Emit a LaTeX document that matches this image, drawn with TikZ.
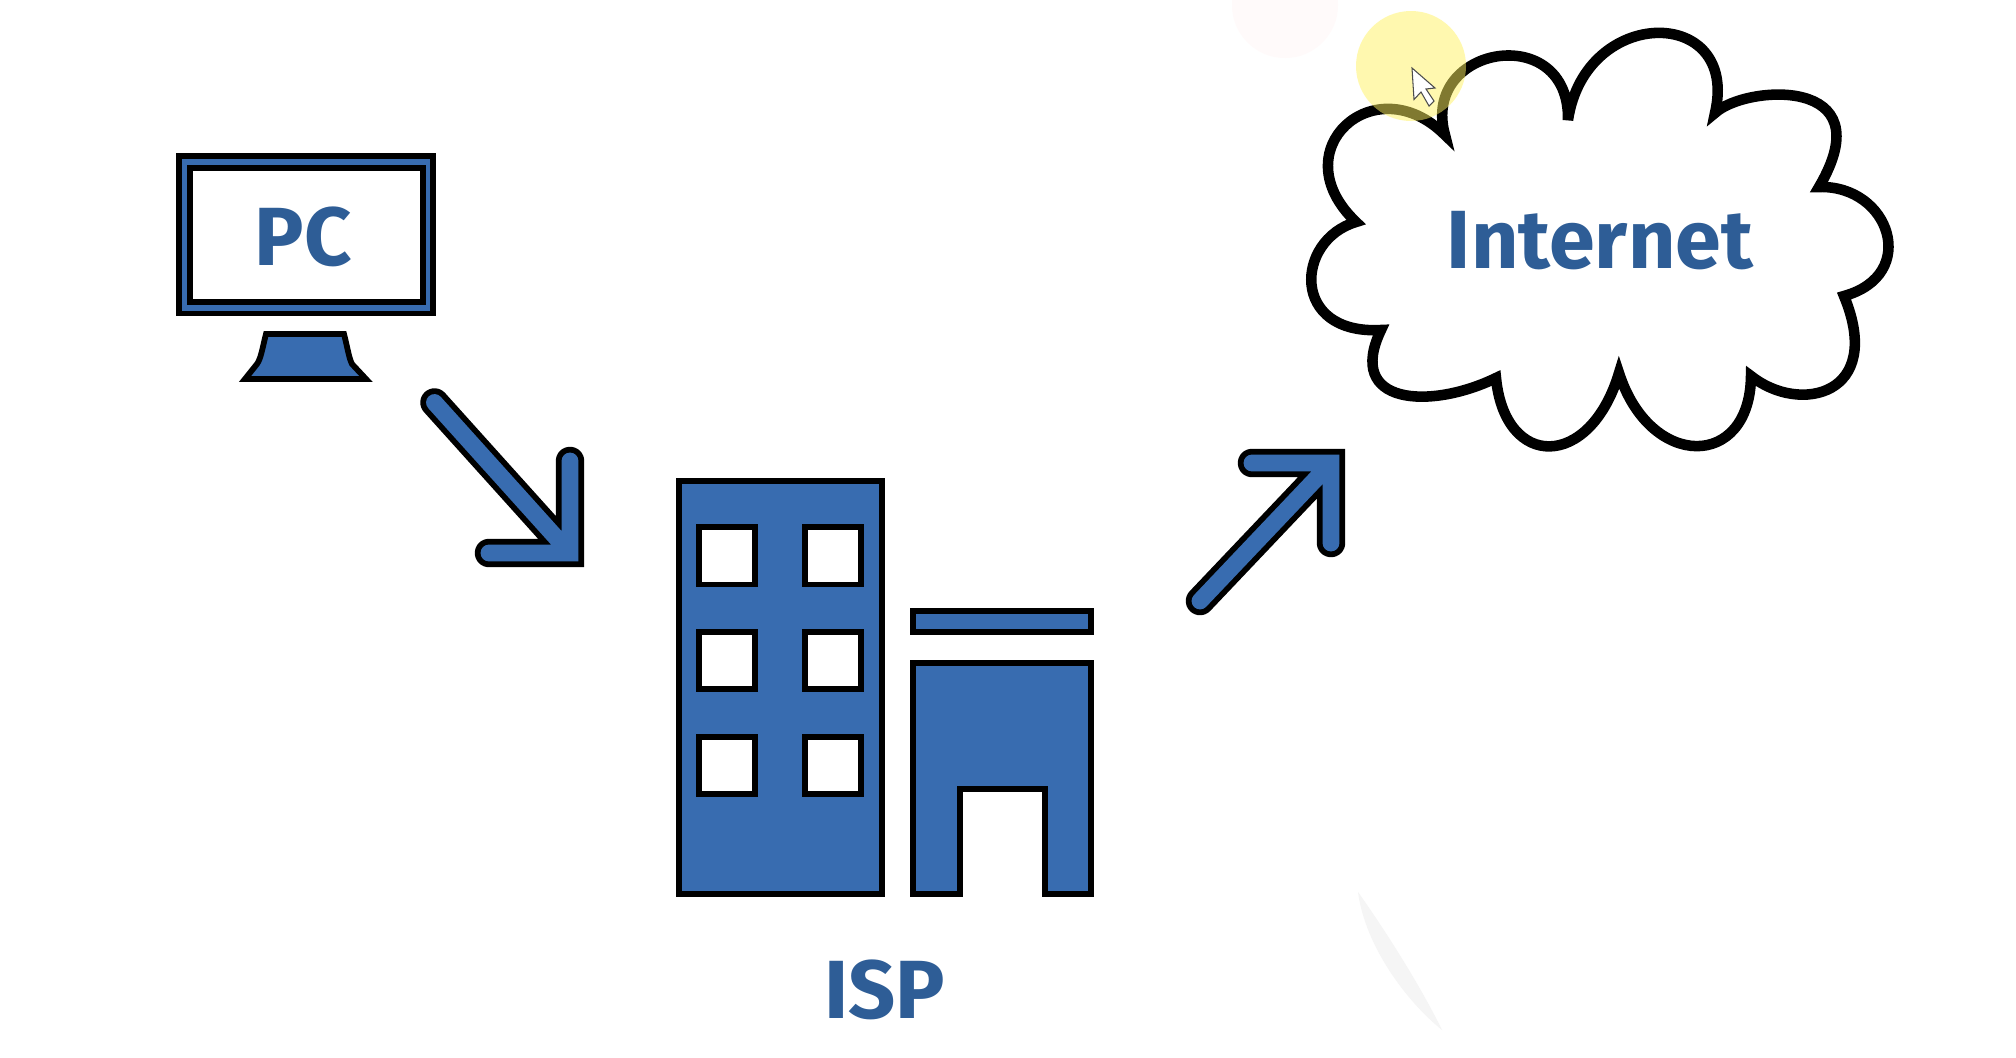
\documentclass[tikz,border=0pt]{standalone}
\usepackage{fontspec}
\setmainfont{Fira Sans}
\definecolor{bluefill}{HTML}{386CB0}
\definecolor{bluetext}{HTML}{2E5D96}
\definecolor{hilite}{HTML}{FFF360}
\tikzset{
  solid part/.style={draw=black,line width=3.3pt,fill=bluefill,miter limit=10},
  window part/.style={draw=black,line width=3.3pt,fill=white},
  bigarrow/.style={draw=black,line width=3.3pt,double=bluefill,double distance=9.6pt,line cap=round,miter limit=10},
  labeltext/.style={anchor=base,inner sep=0pt,text=bluetext,font=\fontsize{47}{47}\selectfont\bfseries}
}
\begin{document}
\begin{tikzpicture}[x=0.02cm,y=-0.02cm]
\useasboundingbox (0,0) rectangle (2016,1058);
\fill[white] (0,0) rectangle (2016,1058);
\fill[red!2!white] (1285,5) circle (53);
\fill[black!4] (1358,892) .. controls (1385,930) and (1420,985) .. (1442,1030) .. controls (1405,1000) and (1365,945) .. (1358,892) -- cycle;
\draw[solid part] (179,156) rectangle (433,313.5);
\draw[window part] (190,168) rectangle (423,302);
\draw[solid part] (266,334) -- (344,334) .. controls (348,350) and (349,358) .. (352,364) -- (366,379) -- (245,379) -- (257,364) .. controls (261,358) and (262,350) .. (266,334) -- cycle;
\node[labeltext] (pc) at (303,265) {PC};
\draw[solid part] (679,481) rectangle (882,894);
\draw[window part] (699,527) rectangle (755,584.5);
\draw[window part] (805,527) rectangle (861,584.5);
\draw[window part] (699,632) rectangle (755,689);
\draw[window part] (805,632) rectangle (861,689);
\draw[window part] (699,737) rectangle (755,794);
\draw[window part] (805,737) rectangle (861,794);
\draw[solid part] (913,611) rectangle (1091,632);
\draw[solid part] (913,663) -- (1091,663) -- (1091,894) -- (1045,894) -- (1045,789) -- (960,789) -- (960,894) -- (913,894) -- cycle;
\node[labeltext] (isp) at (885,1018) {ISP};
\draw[draw=black,line width=6pt,fill=white,miter limit=10] (1445,135)
  .. controls (1420,45) and (1570,20) .. (1568,120)
  .. controls (1585,5) and (1740,5) .. (1715,113)
  .. controls (1745,85) and (1885,75) .. (1819,187)
  .. controls (1890,185) and (1920,275) .. (1844,296)
  .. controls (1885,395) and (1800,415) .. (1751,376)
  .. controls (1750,470) and (1650,470) .. (1619,373)
  .. controls (1590,470) and (1505,470) .. (1496,378)
  .. controls (1430,410) and (1345,405) .. (1381,330)
  .. controls (1290,335) and (1295,240) .. (1356,222)
  .. controls (1280,150) and (1375,65) .. (1445,135) -- cycle;
\node[labeltext] (internet) at (1600,268) {Internet};
\coordinate (tailA) at (434.5,402.5);
\coordinate (tipA) at (570,553);
\coordinate (barbAup) at (570,461);
\coordinate (barbAleft) at (489,553);
\draw[bigarrow] (tailA) -- (tipA) (barbAup) -- (tipA) -- (barbAleft);
\coordinate (tailB) at (1200,601);
\coordinate (tipB) at (1331,463);
\coordinate (barbBdown) at (1331,543);
\coordinate (barbBleft) at (1252,463);
\draw[bigarrow] (tailB) -- (tipB) (barbBdown) -- (tipB) -- (barbBleft);
\fill[hilite,opacity=0.5] (1411,66) circle (55);
\draw[black!70,line width=0.6pt,fill=white] (1412,68) -- (1414,99.5) -- (1421,92) -- (1429,106) -- (1434,101) -- (1426,89) -- (1435,88) -- cycle;
\end{tikzpicture}
\end{document}
